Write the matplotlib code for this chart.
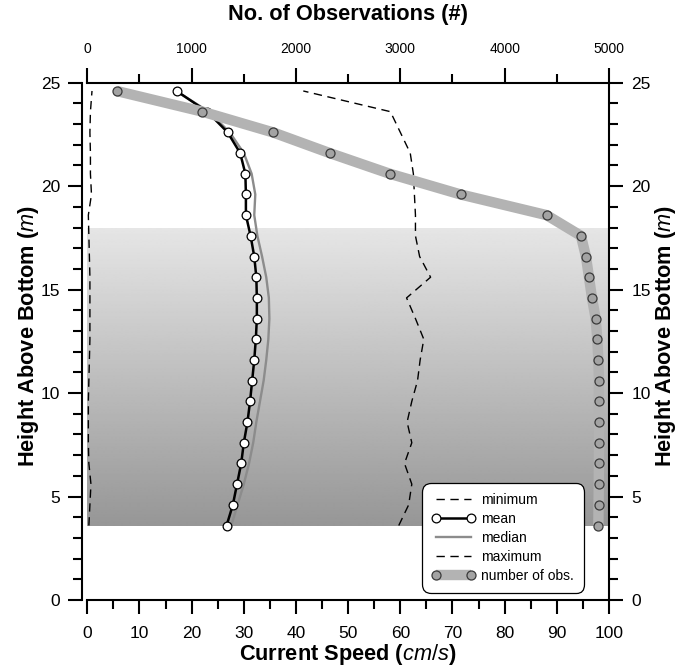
import numpy as np
import matplotlib
matplotlib.use("Agg")
import matplotlib.pyplot as plt
from matplotlib.ticker import MultipleLocator

plt.rcParams["font.family"] = ["Liberation Sans", "DejaVu Sans"]
plt.rcParams["mathtext.fontset"] = "custom"
plt.rcParams["mathtext.rm"] = "Liberation Sans"
plt.rcParams["mathtext.it"] = "Liberation Sans:italic"

# Bin heights above the bottom (m)
height = [3.6, 4.6, 5.6, 6.6, 7.6, 8.6, 9.6, 10.6, 11.6, 12.6, 13.6,
          14.6, 15.6, 16.6, 17.6, 18.6, 19.6, 20.6, 21.6, 22.6, 23.6, 24.6]

# Current speed statistics per bin (cm/s)
speed_min = [0.3, 0.5, 0.7, 0.3, 0.2, 0.2, 0.2, 0.3, 0.4, 0.5, 0.5,
             0.5, 0.5, 0.4, 0.3, 0.2, 0.8, 0.6, 0.6, 0.5, 0.6, 0.9]
speed_mean = [26.7, 27.9, 28.7, 29.5, 30.0, 30.7, 31.2, 31.6, 32.0, 32.3, 32.5,
              32.5, 32.4, 32.0, 31.3, 30.4, 30.4, 30.3, 29.3, 26.9, 23.0, 17.1]
speed_median = [27.6, 28.8, 30.0, 31.0, 31.8, 32.4, 33.1, 33.8, 34.3, 34.7, 34.9,
                34.8, 34.3, 33.5, 32.6, 32.0, 32.2, 31.5, 30.0, 27.3, 23.3, 17.0]
speed_max = [59.7, 61.6, 62.2, 60.8, 62.2, 61.3, 62.2, 63.3, 63.8, 64.5, 62.9,
             61.2, 65.8, 63.7, 62.9, 62.9, 62.7, 62.5, 61.9, 60.0, 58.1, 41.4]

# Number of valid observations per bin
n_obs = [4898, 4900, 4902, 4903, 4904, 4904, 4901, 4904, 4898, 4888, 4872,
         4837, 4808, 4779, 4731, 4402, 3577, 2899, 2323, 1779, 1104, 281]

# Shaded depth band (m) and its gray levels (top, bottom)
band_top, band_bottom = 18.0, 3.6
band_gray = (0.90, 0.59)

W, H = 685, 671
fig = plt.figure(figsize=(W / 100, H / 100), dpi=100)
x0, x1 = 87.3, 609.0
y0, y1 = 600.0, 82.7
ax = fig.add_axes([x0 / W, 1 - y0 / H, (x1 - x0) / W, (y0 - y1) / H])

# Vertical gray gradient behind the profiles
grad = np.linspace(band_gray[0], band_gray[1], 256).reshape(-1, 1)
ax.imshow(grad, cmap="gray", vmin=0, vmax=1, aspect="auto",
          extent=(0, 100, band_bottom, band_top), origin="upper",
          interpolation="bilinear", zorder=0)

dash = (0, (6, 4))
h_min, = ax.plot(speed_min, height, color="black", lw=1.0, ls=dash, label="minimum", zorder=2)
h_med, = ax.plot(speed_median, height, color="#8c8c8c", lw=1.7, label="median", zorder=3)
h_mean, = ax.plot(speed_mean, height, color="black", lw=1.8, marker="o", ms=6.3,
                  mfc="white", mec="black", mew=0.9, label="mean", zorder=4)
h_max, = ax.plot(speed_max, height, color="black", lw=1.0, ls=dash, label="maximum", zorder=2)

ax.set_xlim(0, 100)
ax.set_ylim(0, 25)
ax.xaxis.set_major_locator(MultipleLocator(10))
ax.xaxis.set_minor_locator(MultipleLocator(5))
ax.yaxis.set_major_locator(MultipleLocator(5))
ax.yaxis.set_minor_locator(MultipleLocator(1))

ax.spines["left"].set_position(("outward", 3.6))
ax.spines["top"].set_visible(False)
for s in ("left", "bottom", "right"):
    ax.spines[s].set_linewidth(1.5)

ax.tick_params(which="both", direction="out", width=1.5, top=False,
               right=True, labelright=True, labelsize=12.5)
ax.tick_params(which="major", length=10)
ax.tick_params(which="minor", length=6.5)
ax.tick_params(axis="x", which="major", pad=8.5)
ax.tick_params(axis="y", which="major", pad=6)

title_kw = dict(fontsize=15.7, fontweight="bold")
ax.set_xlabel("Current Speed ($\\mathit{cm/s}$)", **title_kw)
ax.xaxis.set_label_coords(0.5, -0.1063)
ax.xaxis.label.set_va("center")
ylabel = "Height Above Bottom ($\\mathit{m}$)"
ax.set_ylabel(ylabel, **title_kw)
ax.yaxis.set_label_coords(-0.1120, 0.51)
ax.yaxis.label.set_va("center")
ax.text(1.1090, 0.51, ylabel, rotation=90, ha="center", va="center",
        transform=ax.transAxes, **title_kw)

# Observation counts on a secondary top axis
ax2 = ax.twiny()
h_obs, = ax2.plot(n_obs, height, color="#b3b3b3", lw=7.5, marker="o", ms=6.5,
                  mfc="#a3a3a3", mec="#3a3a3a", mew=0.9, label="number of obs.",
                  solid_capstyle="butt", solid_joinstyle="round")
ax2.set_xlim(0, 5000)
ax2.xaxis.set_major_locator(MultipleLocator(1000))
ax2.xaxis.set_minor_locator(MultipleLocator(500))
for s in ("left", "bottom", "right"):
    ax2.spines[s].set_visible(False)
ax2.spines["top"].set_linewidth(1.5)
ax2.tick_params(which="both", direction="out", width=1.5, labelsize=10)
ax2.tick_params(which="major", length=11, pad=8)
ax2.tick_params(which="minor", length=6.5)
ax2.set_xlabel("No. of Observations (#)", **title_kw)
ax2.xaxis.set_label_coords(0.5, 1.1309)
ax2.xaxis.label.set_va("center")

leg = ax2.legend([h_min, h_mean, h_med, h_max, h_obs],
                 ["minimum", "mean", "median", "maximum", "number of obs."],
                 loc="lower right", bbox_to_anchor=(0.952, 0.014), borderaxespad=0,
                 fontsize=10, numpoints=2, handlelength=3.1, handletextpad=0.45,
                 labelspacing=0.36, borderpad=0.7, fancybox=True, framealpha=1)
frame = leg.get_frame()
frame.set_edgecolor("black")
frame.set_linewidth(0.9)
frame.set_boxstyle("round,pad=0,rounding_size=0.6")

fig.savefig("out.png", dpi=100)
